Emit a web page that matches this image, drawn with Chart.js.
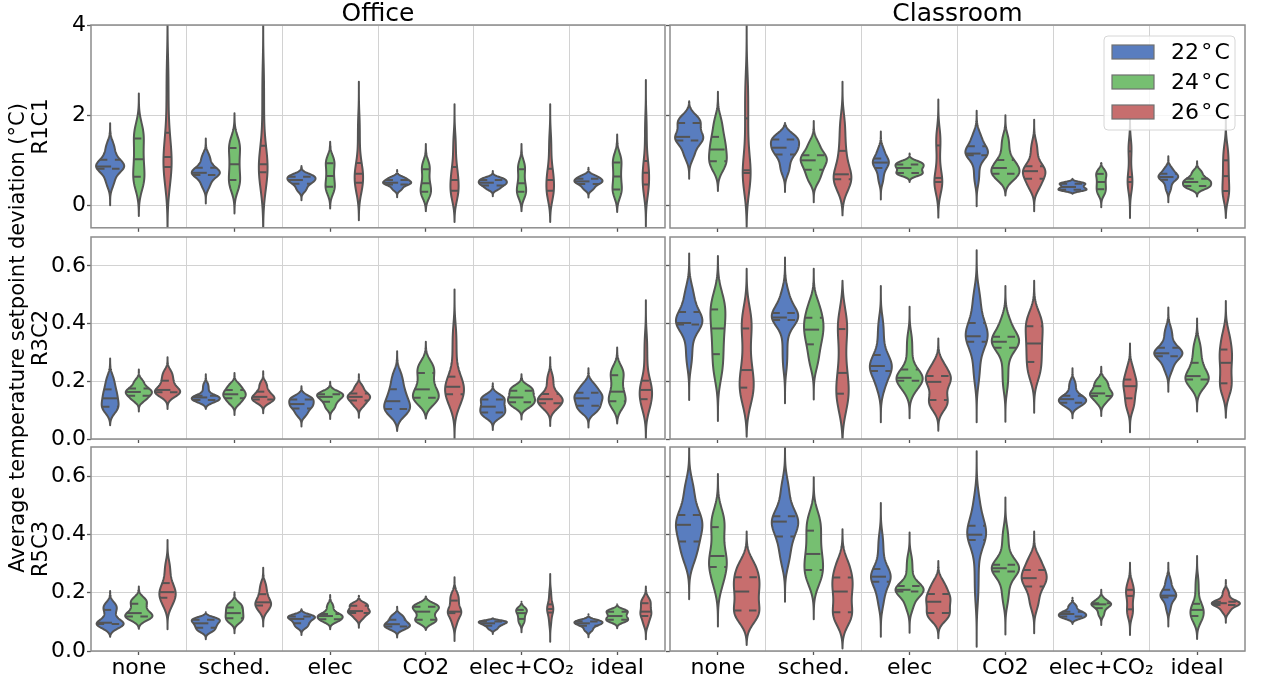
<!DOCTYPE html>
<html>
<head>
<meta charset="utf-8">
<script src="https://cdn.jsdelivr.net/npm/chart.js@4.4.1/dist/chart.umd.min.js"></script>
<style>
html, body { margin: 0; padding: 0; background: #fff; }
#wrap { position: relative; width: 1261px; height: 679px; overflow: hidden; }
#wrap canvas { position: absolute; }
</style>
</head>
<body>
<div id="wrap"></div>
<script>
const cats = ['none', 'sched.', 'elec', 'CO2', 'elec+CO\u2082', 'ideal'];
const hueLabels = ['22\u200a°\u200aC', '24\u200a°\u200aC', '26\u200a°\u200aC'];
const hueColors = ['#597dbf', '#76bf71', '#c76e6e'];

const yTicksR1 = [0, 2, 4];
const yLabelsR1 = ['0', '2', '4'];
const yTicksR23 = [0, 0.2, 0.4, 0.6];
const yLabelsR23 = ['0.0', '0.2', '0.4', '0.6'];

// each violin: [low tip, q1, median, q3, high tip], one per category
const office_r1_22 = [[0.00, 0.81, 0.86, 1.01, 1.82], [0.04, 0.67, 0.72, 0.83, 1.48], [0.11, 0.48, 0.56, 0.63, 0.87], [0.18, 0.46, 0.50, 0.56, 0.78], [0.20, 0.44, 0.50, 0.56, 0.76], [0.17, 0.47, 0.53, 0.59, 0.83]];
const office_r1_24 = [[-0.24, 0.63, 1.02, 1.48, 2.48], [-0.18, 0.56, 0.91, 1.27, 2.04], [-0.07, 0.41, 0.65, 0.93, 1.41], [-0.13, 0.30, 0.49, 0.80, 1.36], [-0.13, 0.30, 0.49, 0.80, 1.36], [-0.15, 0.35, 0.64, 0.95, 1.57]];
const office_r1_26 = [[-0.8, 0.85, 1.07, 1.61, 4.5], [-0.8, 0.73, 0.91, 1.32, 4.3], [-0.33, 0.50, 0.70, 0.94, 2.74], [-0.37, 0.32, 0.56, 0.85, 2.24], [-0.37, 0.32, 0.56, 0.81, 2.24], [-0.47, 0.46, 0.72, 0.98, 2.78]];
const class_r1_22 = [[0.59, 1.44, 1.52, 1.83, 2.31], [0.30, 1.13, 1.28, 1.46, 1.83], [0.13, 0.83, 0.95, 1.04, 1.64], [-0.02, 1.11, 1.15, 1.31, 2.10], [0.26, 0.35, 0.41, 0.48, 0.59], [0.07, 0.57, 0.63, 0.70, 1.09]];
const class_r1_24 = [[0.32, 0.98, 1.24, 1.52, 2.52], [0.07, 0.79, 1.00, 1.11, 1.87], [0.52, 0.72, 0.83, 0.91, 1.15], [0.22, 0.70, 0.83, 1.01, 2.00], [-0.04, 0.36, 0.52, 0.70, 0.94], [0.20, 0.43, 0.52, 0.59, 0.98]];
const class_r1_26 = [[-0.48, 0.72, 0.78, 1.93, 4.1], [-0.22, 0.58, 0.69, 1.21, 2.74], [-0.27, 0.52, 0.61, 1.33, 2.35], [-0.13, 0.59, 0.76, 0.87, 1.90], [-0.28, 0.52, 0.63, 1.20, 1.96], [-0.28, 0.32, 0.65, 1.00, 1.92]];

const office_r2_22 = [[0.048, 0.112, 0.141, 0.172, 0.279], [0.104, 0.135, 0.144, 0.150, 0.224], [0.043, 0.106, 0.121, 0.137, 0.183], [0.028, 0.104, 0.131, 0.172, 0.304], [0.031, 0.092, 0.112, 0.137, 0.193], [0.040, 0.115, 0.141, 0.160, 0.245]];
const office_r2_24 = [[0.095, 0.150, 0.163, 0.175, 0.241], [0.083, 0.141, 0.155, 0.170, 0.229], [0.069, 0.129, 0.146, 0.155, 0.198], [0.071, 0.143, 0.172, 0.229, 0.337], [0.068, 0.127, 0.144, 0.167, 0.224], [0.054, 0.131, 0.164, 0.221, 0.317]];
const office_r2_26 = [[0.104, 0.162, 0.170, 0.202, 0.283], [0.089, 0.137, 0.146, 0.164, 0.235], [0.074, 0.133, 0.146, 0.158, 0.224], [-0.01, 0.155, 0.181, 0.216, 0.518], [0.045, 0.124, 0.138, 0.156, 0.283], [-0.01, 0.138, 0.170, 0.202, 0.481]];
const class_r2_22 = [[0.135, 0.397, 0.402, 0.440, 0.643], [0.124, 0.412, 0.421, 0.437, 0.629], [0.058, 0.236, 0.253, 0.291, 0.530], [0.058, 0.337, 0.356, 0.402, 0.654], [0.072, 0.126, 0.138, 0.150, 0.245], [0.164, 0.287, 0.297, 0.316, 0.456]];
const class_r2_24 = [[0.062, 0.294, 0.383, 0.449, 0.634], [0.137, 0.328, 0.379, 0.420, 0.590], [0.072, 0.202, 0.212, 0.241, 0.458], [0.060, 0.316, 0.337, 0.354, 0.530], [0.080, 0.149, 0.158, 0.183, 0.250], [0.095, 0.206, 0.218, 0.264, 0.418]];
const class_r2_26 = [[0.008, 0.178, 0.239, 0.383, 0.590], [-0.01, 0.157, 0.229, 0.381, 0.548], [0.029, 0.135, 0.198, 0.218, 0.348], [0.091, 0.267, 0.331, 0.391, 0.548], [0.023, 0.141, 0.183, 0.206, 0.331], [0.074, 0.193, 0.264, 0.310, 0.478]];

const office_r3_22 = [[0.049, 0.093, 0.097, 0.141, 0.206], [0.040, 0.080, 0.095, 0.107, 0.133], [0.055, 0.095, 0.110, 0.118, 0.143], [0.046, 0.084, 0.092, 0.107, 0.152], [0.058, 0.087, 0.095, 0.101, 0.112], [0.047, 0.087, 0.095, 0.101, 0.126]];
const office_r3_24 = [[0.076, 0.118, 0.130, 0.162, 0.221], [0.061, 0.112, 0.130, 0.149, 0.202], [0.075, 0.109, 0.120, 0.127, 0.192], [0.072, 0.107, 0.135, 0.152, 0.187], [0.064, 0.110, 0.130, 0.141, 0.169], [0.078, 0.107, 0.120, 0.135, 0.160]];
const office_r3_26 = [[0.075, 0.183, 0.202, 0.233, 0.381], [0.084, 0.156, 0.167, 0.195, 0.286], [0.080, 0.130, 0.137, 0.155, 0.190], [0.034, 0.130, 0.135, 0.173, 0.253], [0.032, 0.132, 0.144, 0.160, 0.264], [0.040, 0.120, 0.135, 0.164, 0.221]];
const class_r3_22 = [[0.178, 0.376, 0.433, 0.467, 0.71], [0.169, 0.393, 0.444, 0.462, 0.71], [0.049, 0.238, 0.255, 0.281, 0.508], [0.015, 0.381, 0.399, 0.430, 0.685], [0.093, 0.118, 0.127, 0.135, 0.183], [0.084, 0.184, 0.190, 0.210, 0.303]];
const class_r3_24 = [[0.084, 0.288, 0.326, 0.425, 0.607], [0.109, 0.278, 0.333, 0.413, 0.596], [0.063, 0.204, 0.210, 0.223, 0.407], [0.057, 0.273, 0.284, 0.296, 0.527], [0.089, 0.147, 0.160, 0.164, 0.210], [0.041, 0.120, 0.141, 0.162, 0.326]];
const class_r3_26 = [[0.021, 0.139, 0.204, 0.253, 0.410], [0.009, 0.133, 0.204, 0.252, 0.418], [0.044, 0.130, 0.169, 0.196, 0.309], [0.061, 0.221, 0.250, 0.278, 0.410], [0.055, 0.143, 0.189, 0.210, 0.303], [0.097, 0.158, 0.164, 0.169, 0.244]];

// relative violin width (1 = widest) per category
const office_r1_22_w = [1, 1, 1, 1, 1, 1];
const office_r1_24_w = [0.40, 0.40, 0.33, 0.37, 0.33, 0.33];
const office_r1_26_w = [0.29, 0.31, 0.30, 0.29, 0.27, 0.23];
const class_r1_22_w = [1, 1, 0.57, 0.80, 1, 0.70];
const class_r1_24_w = [0.63, 0.93, 1, 1, 0.36, 1];
const class_r1_26_w = [0.28, 0.63, 0.28, 0.80, 0.17, 0.24];
const office_r2_22_w = [0.60, 1, 0.87, 0.92, 0.89, 1];
const office_r2_24_w = [0.93, 0.80, 0.93, 0.92, 0.96, 0.60];
const office_r2_26_w = [0.90, 0.80, 0.80, 0.67, 0.89, 0.44];
const class_r2_22_w = [0.94, 0.94, 0.78, 0.78, 0.97, 1];
const class_r2_24_w = [0.53, 0.69, 0.93, 0.97, 0.80, 0.83];
const class_r2_26_w = [0.50, 0.44, 0.89, 0.60, 0.47, 0.44];
const office_r3_22_w = [0.96, 1, 0.96, 0.91, 1, 1];
const office_r3_24_w = [0.97, 0.63, 0.89, 0.93, 0.38, 0.78];
const office_r3_26_w = [0.58, 0.56, 0.78, 0.48, 0.22, 0.39];
const class_r3_22_w = [0.94, 0.94, 0.70, 0.67, 0.97, 0.56];
const class_r3_24_w = [0.63, 0.66, 1, 0.97, 0.70, 0.47];
const class_r3_26_w = [0.91, 0.72, 0.86, 0.89, 0.28, 1];

Chart.defaults.font.family = '"DejaVu Sans", sans-serif';
Chart.defaults.color = '#000';

const edgeCol = '#545454';
const gridCol = '#d2d2d2';
const frameCol = '#8c8c8c';
const halfMax = 0.147;
const hueOffsets = [-0.3, 0, 0.3];

// smooth outline of one violin from its five numbers
function shape(st) {
    const [lo, q1, md, q3, hi] = st;
    const pts = (a, b) => {
        const q = [a, q1, md, q3, b], s = [];
        for (let k = 0; k < 40; k++) {
            const t = (k + 0.5) / 10, j = Math.floor(t);
            s.push(q[j] + (q[j + 1] - q[j]) * (t - j));
        }
        return s;
    };
    const bw = s => {
        const m = s.reduce((p, c) => p + c, 0) / s.length;
        return 0.5 * Math.sqrt(s.reduce((p, c) => p + (c - m) ** 2, 0) / s.length);
    };
    let h = bw(pts(lo, hi));
    const a = lo + Math.min(2 * h, 0.7 * (q1 - lo));
    const b = hi - Math.min(2 * h, 0.7 * (hi - q3));
    const s = pts(a, b);
    h = bw(s) || 1e-3;
    const M = 80, v = [], d = [];
    for (let j = 0; j <= M; j++) {
        const y = lo + (hi - lo) * j / M;
        v.push(y);
        d.push(s.reduce((p, c) => p + Math.exp(-0.5 * ((y - c) / h) ** 2), 0));
    }
    const d0 = d[0], d1 = d[M];
    let mx = 0;
    for (let j = 0; j <= M; j++) {
        d[j] = Math.max(0, d[j] - (d0 + (d1 - d0) * j / M));
        mx = Math.max(mx, d[j]);
    }
    return { v, d: d.map(x => x / mx) };
}

function widthAt(sh, val) {
    const n = sh.v.length - 1;
    const t = (val - sh.v[0]) / (sh.v[n] - sh.v[0]) * n;
    const k = Math.max(0, Math.min(n - 1, Math.floor(t)));
    return sh.d[k] + (sh.d[k + 1] - sh.d[k]) * (t - k);
}

function drawLegend(chart) {
    const { ctx, chartArea: a } = chart;
    const bw = 131, bh = 94, bx = a.right - 10 - bw, by = a.top + 11;
    ctx.save();
    ctx.beginPath();
    ctx.roundRect(bx, by, bw, bh, 4);
    ctx.fillStyle = 'rgba(255,255,255,0.8)';
    ctx.fill();
    ctx.strokeStyle = '#d6d6d6';
    ctx.lineWidth = 1;
    ctx.stroke();
    chart.data.datasets.forEach((ds, i) => {
        const cy = by + 16 + 30 * i;
        ctx.fillStyle = ds.backgroundColor;
        ctx.fillRect(bx + 8, cy - 7, 42, 14);
        ctx.strokeStyle = '#707070';
        ctx.lineWidth = 1.2;
        ctx.strokeRect(bx + 8, cy - 7, 42, 14);
        ctx.fillStyle = '#000';
        ctx.font = '22px "DejaVu Sans"';
        ctx.textBaseline = 'middle';
        ctx.fillText(ds.label, bx + 67, cy + 1);
    });
    ctx.restore();
}

const violinPlugin = {
    id: 'violins',
    afterDatasetsDraw(chart, args, opts) {
        const { ctx, chartArea: a, scales: { x, y } } = chart;
        ctx.save();
        ctx.beginPath();
        ctx.rect(a.left, a.top, a.right - a.left, a.bottom - a.top);
        ctx.clip();
        ctx.lineJoin = 'round';
        chart.data.datasets.forEach(ds => {
            ds.stats.forEach((st, i) => {
                const sh = shape(st);
                const cx = i + ds.offset, hw = halfMax * ds.widths[i];
                ctx.beginPath();
                sh.v.forEach((v, j) => {
                    const px = x.getPixelForValue(cx - hw * sh.d[j]), py = y.getPixelForValue(v);
                    if (j) ctx.lineTo(px, py); else ctx.moveTo(px, py);
                });
                for (let j = sh.v.length - 1; j >= 0; j--) {
                    ctx.lineTo(x.getPixelForValue(cx + hw * sh.d[j]), y.getPixelForValue(sh.v[j]));
                }
                ctx.closePath();
                ctx.fillStyle = ds.backgroundColor;
                ctx.fill();
                ctx.setLineDash([]);
                ctx.lineWidth = 2;
                ctx.strokeStyle = edgeCol;
                ctx.stroke();
                [st[1], st[2], st[3]].forEach((q, k) => {
                    const w = hw * widthAt(sh, q);
                    ctx.setLineDash(k === 1 ? [15, 15] : [7.5, 7.5]);
                    ctx.beginPath();
                    ctx.moveTo(x.getPixelForValue(cx - w), y.getPixelForValue(q));
                    ctx.lineTo(x.getPixelForValue(cx + w), y.getPixelForValue(q));
                    ctx.stroke();
                });
            });
        });
        ctx.restore();
        ctx.save();
        ctx.strokeStyle = frameCol;
        ctx.lineWidth = 1.5;
        ctx.strokeRect(a.left, a.top, a.right - a.left, a.bottom - a.top);
        ctx.restore();
        if (opts.legend) drawLegend(chart);
    }
};

const cols = [
    { left: 0, width: 668, padR: 3, showY: true, title: 'Office' },
    { left: 660, width: 601, padR: 16, showY: false, title: 'Classroom' }
];
const rows = [
    { top: 0, height: 242, padT: 0, topH: 25, xH: 14, showX: false },
    { top: 222, height: 231, padT: 15, topH: 0, xH: 14, showX: false },
    { top: 432, height: 247, padT: 15, topH: 0, xH: 28, showX: true }
];

// the middle office panel carries the long shared label, so its canvas gets extra room
const panels = [
    { row: 0, col: 0, yTitle: 'R1C1', padL: 26, stats: [office_r1_22, office_r1_24, office_r1_26], widths: [office_r1_22_w, office_r1_24_w, office_r1_26_w] },
    { row: 0, col: 1, legend: true, stats: [class_r1_22, class_r1_24, class_r1_26], widths: [class_r1_22_w, class_r1_24_w, class_r1_26_w] },
    { row: 1, col: 0, extra: 140, yTitle: ['Average temperature setpoint deviation (°C)', 'R3C2'], padL: 3, stats: [office_r2_22, office_r2_24, office_r2_26], widths: [office_r2_22_w, office_r2_24_w, office_r2_26_w] },
    { row: 1, col: 1, stats: [class_r2_22, class_r2_24, class_r2_26], widths: [class_r2_22_w, class_r2_24_w, class_r2_26_w] },
    { row: 2, col: 0, yTitle: 'R5C3', padL: 26, stats: [office_r3_22, office_r3_24, office_r3_26], widths: [office_r3_22_w, office_r3_24_w, office_r3_26_w] },
    { row: 2, col: 1, stats: [class_r3_22, class_r3_24, class_r3_26], widths: [class_r3_22_w, class_r3_24_w, class_r3_26_w] }
];

const wrap = document.getElementById('wrap');

panels.forEach(p => {
    const r = rows[p.row], c = cols[p.col];
    const extra = p.extra || 0;
    const padL = c.showY ? p.padL : 0;
    const yW = c.showY ? 91 - padL : 10;
    const yTicks = p.row === 0 ? yTicksR1 : yTicksR23;
    const yLabels = p.row === 0 ? yLabelsR1 : yLabelsR23;
    const canvas = document.createElement('canvas');
    canvas.width = c.width;
    canvas.height = r.height + 2 * extra;
    canvas.style.left = c.left + 'px';
    canvas.style.top = (r.top - extra) + 'px';
    wrap.appendChild(canvas);

    new Chart(canvas, {
        type: 'scatter',
        data: {
            datasets: p.stats.map((st, h) => ({
                label: hueLabels[h],
                data: st.map((s, i) => ({ x: i + hueOffsets[h], y: s[2] })),
                stats: st,
                widths: p.widths[h],
                offset: hueOffsets[h],
                backgroundColor: hueColors[h],
                pointRadius: 0
            }))
        },
        options: {
            responsive: false,
            animation: false,
            devicePixelRatio: 1,
            events: [],
            layout: { padding: { left: padL, right: c.padR, top: r.padT + extra, bottom: extra } },
            plugins: {
                legend: { display: false },
                tooltip: { enabled: false },
                violins: { legend: !!p.legend }
            },
            scales: {
                x: {
                    type: 'linear',
                    position: 'bottom',
                    min: -0.5,
                    max: 5.5,
                    afterBuildTicks: s => { s.ticks = cats.map((cat, i) => ({ value: i })); },
                    afterFit: s => { s.height = r.xH; },
                    ticks: {
                        display: r.showX,
                        autoSkip: false,
                        maxRotation: 0,
                        padding: 0,
                        font: { size: 22 },
                        callback: (v, i) => cats[i]
                    },
                    grid: { drawOnChartArea: false, tickLength: 4, tickColor: '#555', tickWidth: 1.3 },
                    border: { display: false }
                },
                xg: {
                    type: 'linear',
                    position: 'top',
                    min: -0.5,
                    max: 5.5,
                    afterBuildTicks: s => { s.ticks = cats.slice(1).map((cat, i) => ({ value: i + 0.5 })); },
                    afterFit: s => { s.height = r.topH; },
                    ticks: { display: false },
                    grid: { color: gridCol, lineWidth: 1, drawTicks: false },
                    border: { display: false },
                    title: { display: p.row === 0, text: c.title, font: { size: 25, lineHeight: 1.15 }, padding: 0 }
                },
                y: {
                    type: 'linear',
                    min: p.row === 0 ? -0.5 : 0,
                    max: p.row === 0 ? 4 : 0.7,
                    afterBuildTicks: s => { s.ticks = yTicks.map(v => ({ value: v })); },
                    afterFit: s => { s.width = yW; },
                    ticks: {
                        display: c.showY,
                        padding: 1,
                        font: { size: 22 },
                        callback: (v, i) => yLabels[i]
                    },
                    grid: { color: gridCol, lineWidth: 1, tickLength: 4, tickColor: '#555', tickWidth: 1.3 },
                    border: { display: false },
                    title: { display: c.showY, text: p.yTitle, font: { size: 21, lineHeight: 1.1 }, padding: { top: 4, bottom: 4 } }
                }
            }
        },
        plugins: [violinPlugin]
    });
});
</script>
</body>
</html>
